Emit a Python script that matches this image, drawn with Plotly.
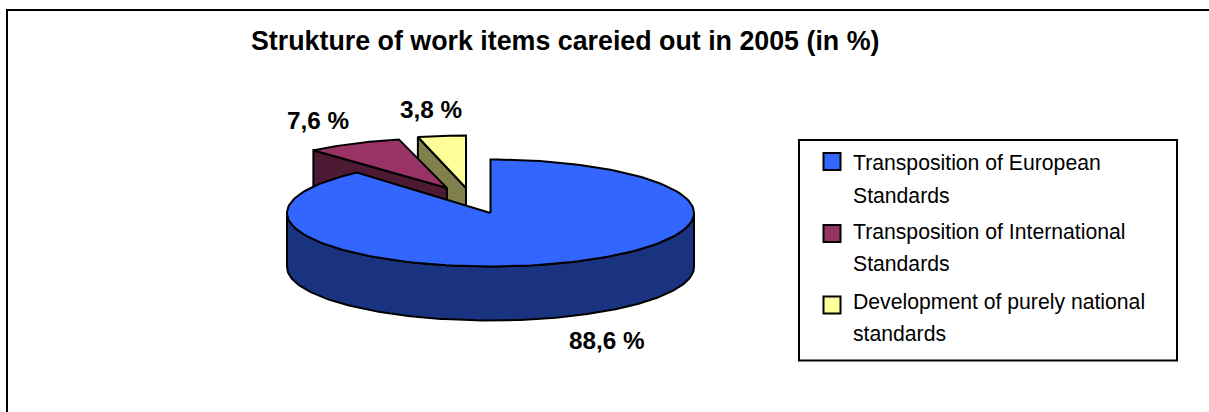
import numpy as np
import plotly.graph_objects as go

title = "Strukture of work items careied out in 2005 (in %)"
categories = ["Transposition of European Standards",
              "Transposition of International Standards",
              "Development of purely national standards"]
legend_lines = [["Transposition of European", "Standards"],
                ["Transposition of International", "Standards"],
                ["Development of purely national", "standards"]]
values = [88.6, 7.6, 3.8]
value_labels = ["88,6 %", "7,6 %", "3,8 %"]

top_colors = ["#3366FF", "#993366", "#FFFF99"]
side_colors = ["#1A3380", "#4D1A33", "#80804D"]

W, H = 1209, 412
CX = [490.5, 447, 466]
CY = [213, 188, 188]
RY = [53.5, 50, 52.5]
RX, DEPTH = 203.5, 54
FONT = "Liberation Sans, Arial, sans-serif"

fracs = np.array(values) / sum(values)
ends = np.cumsum(fracs) * 2 * np.pi
starts = ends - fracs * 2 * np.pi


def arc(i, a0, a1, n=160):
    t = np.linspace(a0, a1, n)
    return CX[i] + RX * np.sin(t), CY[i] - RY[i] * np.cos(t)


def wedge(i):
    x, y = arc(i, starts[i], ends[i])
    return np.r_[CX[i], x, CX[i]], np.r_[CY[i], y, CY[i]]


def poly(x, y, color):
    return go.Scatter(x=x, y=y, mode="lines", fill="toself", fillcolor=color,
                      line=dict(color="black", width=2), hoverinfo="skip",
                      showlegend=False)


def cut_face(i, ang):
    ex, ey = arc(i, ang, ang, 1)
    return ([CX[i], ex[0], ex[0], CX[i], CX[i]],
            [CY[i], ey[0], ey[0] + DEPTH, CY[i] + DEPTH, CY[i]])


fig = go.Figure()
# back slices: side faces first, then tops, so the blue slice covers them
for i in (2, 1):
    fig.add_trace(poly(*cut_face(i, starts[i]), side_colors[i]))
    fig.add_trace(poly(*wedge(i), top_colors[i]))

# blue slice: visible outer wall, then top
wx, wy = arc(0, np.pi / 2, 3 * np.pi / 2)
fig.add_trace(poly(np.r_[wx, wx[::-1], wx[0]],
                   np.r_[wy + DEPTH, wy[::-1], wy[0] + DEPTH], side_colors[0]))
fig.add_trace(poly(*wedge(0), top_colors[0]))

# value labels
label_pos = [(607, 340), (318, 120), (431, 109)]
for txt, (lx, ly) in zip(value_labels, label_pos):
    fig.add_annotation(x=lx, y=ly, text=txt, showarrow=False,
                       font=dict(family=FONT, size=24.3, color="black", weight="bold"))

# title
fig.add_annotation(x=565, y=41, text=title, showarrow=False,
                   font=dict(family=FONT, size=26.8, color="black", weight="bold"))

# legend
fig.add_trace(go.Scatter(x=[832, 832, 832], y=[161.5, 233.5, 305], mode="markers",
                         marker=dict(symbol="square", size=17, color=top_colors,
                                     line=dict(color="black", width=2)),
                         text=categories, hoverinfo="text", showlegend=False))
line_y = [[163, 195], [232, 263], [302, 333]]
for lines, ys in zip(legend_lines, line_y):
    for s, ly in zip(lines, ys):
        fig.add_annotation(x=851, y=ly, text=s, showarrow=False, xanchor="left",
                           font=dict(family=FONT, size=21.2, color="black"))

fig.update_layout(
    width=W, height=H, margin=dict(l=0, r=0, t=0, b=0),
    paper_bgcolor="white", plot_bgcolor="white", showlegend=False,
    xaxis=dict(range=[0, W], visible=False, fixedrange=True),
    yaxis=dict(range=[H, 0], visible=False, fixedrange=True),
    shapes=[
        dict(type="rect", x0=799, y0=140, x1=1177, y1=360.5,
             line=dict(color="black", width=2), layer="below"),
        dict(type="line", x0=7, y0=10, x1=W, y1=10,
             line=dict(color="black", width=2), layer="below"),
        dict(type="line", x0=7, y0=9, x1=7, y1=H,
             line=dict(color="black", width=2), layer="below"),
    ],
)
fig.write_html("out.html", config={"displayModeBar": False},
               post_script="document.body.style.margin='0';document.body.style.overflow='hidden';")
